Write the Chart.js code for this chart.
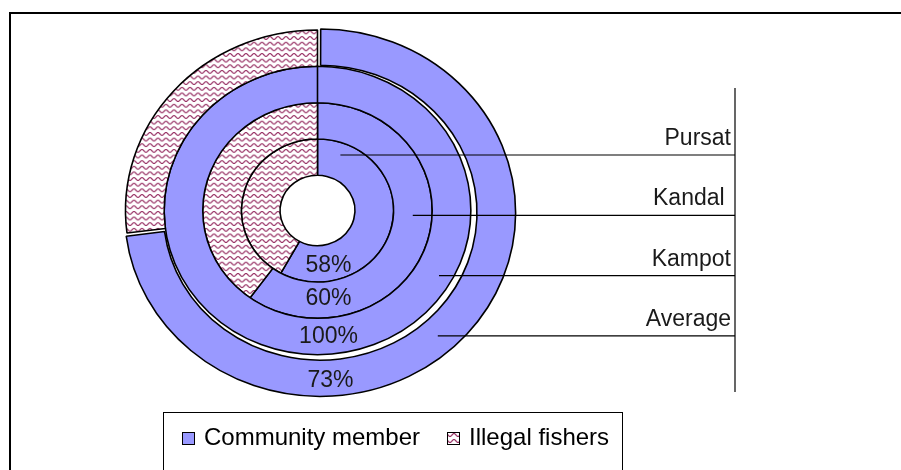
<!DOCTYPE html>
<html>
<head>
<meta charset="utf-8">
<script src="https://cdn.jsdelivr.net/npm/chart.js@4.4.0/dist/chart.umd.min.js"></script>
<style>
  html, body { margin: 0; padding: 0; background: #fff; }
  #wrap { position: relative; width: 901px; height: 470px; overflow: hidden; }
  #frame { position: absolute; left: 9px; top: 12px; width: 1000px; height: 1000px; border: 2px solid #000; box-sizing: border-box; }
  #ringChart { position: absolute; left: 0; top: 0; }
</style>
</head>
<body>
<div id="wrap">
  <div id="frame"></div>
  <canvas id="ringChart" width="901" height="470"></canvas>
</div>
<script>
// rings listed from the inside out
const categories = ['Community member', 'Illegal fishers'];
const regions = ['Pursat', 'Kandal', 'Kampot', 'Average'];
const communityPct = [58, 60, 100, 73];
const illegalPct = [42, 40, 0, 27];

const ctx = document.getElementById('ringChart').getContext('2d');
const FONT = 'Arial, "Liberation Sans", sans-serif';
const blue = '#9999FF';
const squash = 0.94;   // the original picture is a little flattened

function wavePattern() {
    const c = document.createElement('canvas');
    c.width = 8; c.height = 6;
    const g = c.getContext('2d');
    g.fillStyle = '#fff';
    g.fillRect(0, 0, 8, 6);
    g.strokeStyle = '#993366';
    g.lineWidth = 1.2;
    g.beginPath();
    for (let x = -1; x <= 9; x += 0.5) {
        const y = 3 + 1.5 * Math.sin(x / 8 * Math.PI * 2);
        if (x === -1) g.moveTo(x, y); else g.lineTo(x, y);
    }
    g.stroke();
    return ctx.createPattern(c, 'repeat');
}
const wave = wavePattern();

// Chart.js puts dataset 0 on the outside, so reverse
const ringOrder = regions.map((_, i) => regions.length - 1 - i);

const ringLabels = {
    id: 'ringLabels',
    beforeDatasetsDraw(chart) {
        const cy = (chart.chartArea.top + chart.chartArea.bottom) / 2;
        chart.ctx.save();
        chart.ctx.translate(0, cy);
        chart.ctx.scale(1, squash);
        chart.ctx.translate(0, -cy);
    },
    afterDatasetsDraw(chart) {
        const c = chart.ctx;
        c.restore();
        const drop = [26, 23, 24.5, 32];
        const startAt = [0.67, 0.5, 0.65, 0.68];
        const first = chart.getDatasetMeta(0).data[0];
        const cx = first.x, cy = first.y;
        c.save();

        // percentages of community members at the bottom of each ring
        c.font = '23px ' + FONT;
        c.fillStyle = '#1a1a1a';
        c.textAlign = 'center';
        c.textBaseline = 'alphabetic';
        ringOrder.forEach((ri, d) => {
            const arc = chart.getDatasetMeta(d).data[0];
            const shift = regions[ri] === 'Average' ? 2 : 0;
            c.fillText(communityPct[ri] + '%', arc.x + 11 + shift, arc.y + squash * arc.innerRadius + drop[ri]);
        });

        // leader lines and region names on the right
        const barX = 735;
        c.strokeStyle = '#000';
        c.lineWidth = 1.2;
        c.beginPath();
        c.moveTo(barX, cy - 122.5);
        c.lineTo(barX, cy + 181.5);
        c.stroke();
        c.textAlign = 'right';
        regions.forEach((name, ri) => {
            const arc = chart.getDatasetMeta(ringOrder.indexOf(ri)).data[0];
            const lineY = cy - 55.5 + ri * 60.3;
            const r = arc.innerRadius + startAt[ri] * (arc.outerRadius - arc.innerRadius);
            const dy = (lineY - cy) / squash;
            const x0 = cx + Math.sqrt(Math.max(r * r - dy * dy, 0));
            c.beginPath();
            c.moveTo(x0, lineY);
            c.lineTo(barX, lineY);
            c.stroke();
            c.fillText(name === 'Kandal' ? name + ' ' : name, 731, lineY - 10);
        });
        c.restore();
    },
    afterDraw(chart) {
        const c = chart.ctx;
        c.save();
        c.strokeStyle = '#000';
        c.lineWidth = 1;
        c.strokeRect(163.5, 412.5, 459, 80);
        c.font = '24px ' + FONT;
        c.textBaseline = 'alphabetic';
        const items = [{ x: 182, fill: blue }, { x: 447, fill: wave }];
        items.forEach((it, i) => {
            c.fillStyle = it.fill;
            c.fillRect(it.x, 432, 13, 13);
            c.strokeRect(it.x + 0.5, 432.5, 12, 12);
            c.fillStyle = '#000';
            c.fillText(categories[i], it.x + 22, 445);
        });
        c.restore();
    }
};

const ringChart = new Chart(ctx, {
    type: 'doughnut',
    data: {
        labels: categories,
        datasets: ringOrder.map(ri => ({
            label: regions[ri],
            data: [communityPct[ri], illegalPct[ri]],
            backgroundColor: [blue, wave],
            borderColor: '#000',
            borderWidth: 1.6,
            offset: regions[ri] === 'Average' ? [14, 0] : 0,
            hoverOffset: 0
        }))
    },
    options: {
        responsive: false,
        animation: false,
        events: [],
        radius: 192,
        cutout: '19.5%',
        layout: { padding: { left: 100, right: 366, top: 10, bottom: 59 } },
        plugins: { legend: { display: false }, tooltip: { enabled: false } }
    },
    plugins: [ringLabels]
});
</script>
</body>
</html>
